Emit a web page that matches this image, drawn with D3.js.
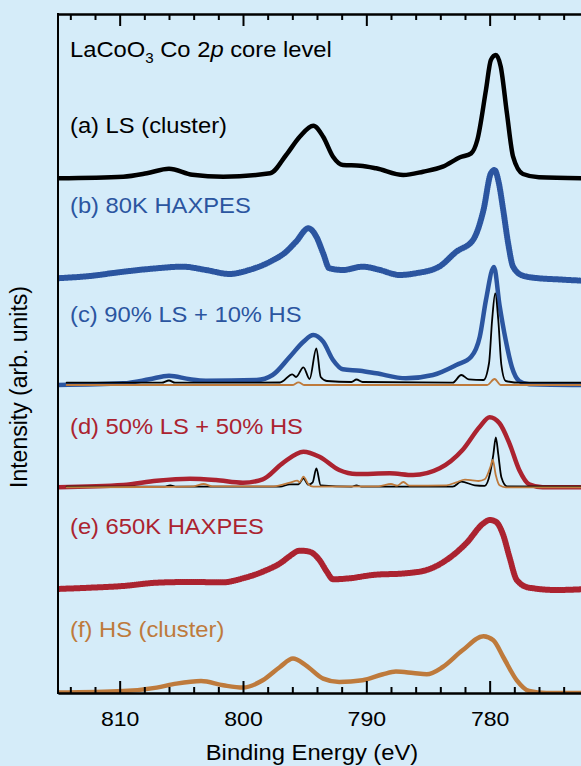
<!DOCTYPE html>
<html>
<head>
<meta charset="utf-8">
<script src="https://d3js.org/d3.v7.min.js"></script>
<style>
  body { margin: 0; background: #d5ecf9; }
  svg { display: block; font-family: "Liberation Sans", Arial, sans-serif; }
</style>
</head>
<body>
<div id="chart"></div>
<script>
// [binding energy (eV), intensity above the trace's own baseline (arb. units)]
const lsCluster = [[815.1,0],[809.7,1.6],[807.8,5],[806.0,9.6],[804.1,3.6],[801.6,1.6],[797.8,5],[796.5,23.3],[795.4,41.6],[794.3,52.6],[793.5,41.6],[792.7,21.6],[791.9,13.3],[790.5,12.6],[789.2,10],[787.0,3.3],[785.4,6.6],[783.8,11.6],[782.4,21],[781.5,25],[781.0,38.3],[780.3,88.3],[779.9,118.3],[779.5,123.3],[779.1,111.6],[778.6,65],[778.1,21.6],[777.3,4.3],[776.0,1],[772.5,0]];

const haxpes80K = [[815.1,2.7],[812.4,5],[809.7,9.3],[807.0,12.7],[804.9,14.3],[803.0,11],[801.1,7],[799.5,11],[797.8,19.3],[796.5,29.3],[795.7,39.3],[794.7,52.7],[794.05,44.3],[793.5,27.7],[793.0,12.7],[791.9,11],[790.3,14.3],[788.9,11],[787.3,6],[786.0,7.7],[784.1,14.3],[782.7,29.3],[781.35,41],[780.5,71],[779.9,107.7],[779.6,111],[779.25,97.7],[778.9,71],[778.5,37.7],[778.1,14.3],[777.3,5.3],[776.0,2.7],[774.6,1.7],[772.5,0.3]];

const mix90Sum = [[815.1,0],[809.7,1.7],[807.6,5.7],[806.0,9.3],[804.3,5.7],[803.0,4.3],[798.9,5],[797.6,10],[796.2,28.3],[795.1,43.3],[794.3,50],[793.5,43.3],[792.7,25],[791.9,15.7],[790.5,14.3],[789.2,11.7],[786.8,6.7],[784.6,10],[782.7,20],[781.5,28.3],[780.8,48.3],[780.3,85],[779.65,118],[779.2,80],[778.7,45],[778.2,18],[777.6,4],[776.8,0.7],[772.5,0]];
const mix90LS = [[814.3,2.3],[806.6,2.3],[806.0,4.5],[805.5,2.3],[797.0,2.5],[796.0,10.7],[795.7,8],[795.1,17.7],[794.6,6],[794.05,36.7],[793.7,8],[793.2,4],[791.2,3],[790.8,5.5],[790.3,3],[783.0,2.3],[782.3,10],[781.7,5.7],[780.5,5],[780.05,22],[779.8,65],[779.55,91.7],[779.3,65],[779.05,20],[778.7,4],[777.5,2.3],[772.5,2.3]];
const mix90HS = [[814.3,0],[796.0,0],[795.5,2.7],[795.0,0],[780.2,0],[779.6,6],[779.1,0],[772.5,0]];

const mix50Sum = [[815.1,0],[809.7,2.3],[807.0,6.6],[804.3,8.6],[802.2,7.3],[800.0,4.6],[798.4,8],[796.8,24],[795.1,35.6],[793.8,30.6],[792.2,17.3],[790.8,13.3],[788.1,14],[786.2,12.3],[784.05,19],[782.2,37.3],[780.8,60.6],[780.0,70],[779.2,64],[778.4,44],[777.6,17.3],[776.8,3],[775.7,0],[772.5,0]];
const mix50LS = [[814.3,0.6],[806.4,0.6],[805.9,2],[805.4,0.6],[797.0,0.6],[796.2,3],[795.5,3],[795.1,9],[794.7,2.6],[794.35,5],[794.05,19],[793.7,2],[791.2,0.6],[790.8,2],[790.4,0.6],[783.0,0.6],[782.3,5.6],[781.2,2],[780.4,1.5],[779.95,15],[779.7,33],[779.5,50],[779.3,33],[779.05,10],[778.6,1],[772.5,0.6]];
const mix50HS = [[814.3,0],[808.0,0.3],[804.0,1],[803.2,3.3],[802.5,1],[797.5,1],[796.2,4.6],[795.6,6.6],[795.4,5],[795.1,10.6],[794.7,3],[794.3,0.6],[789.0,1],[788.0,3.3],[787.5,1.6],[787.0,5.3],[786.5,1.6],[783.5,2],[782.7,5],[782.0,7.6],[781.4,7],[780.9,6.3],[780.4,8],[779.95,20],[779.75,27.3],[779.5,12],[779.2,2],[778.7,0],[772.5,0]];

const haxpes650K = [[815.1,1],[812.4,2.3],[809.7,4],[807.0,7.3],[804.3,8],[801.6,7.7],[800.0,11.7],[798.4,18.3],[796.8,28.3],[796.2,34],[795.4,39.3],[794.6,38.3],[793.8,30],[793.2,18.3],[792.7,10.7],[791.35,11.7],[789.5,15],[786.8,16.7],[785.1,20],[783.5,30],[781.9,46.7],[780.5,66.7],[780.0,70],[779.5,68.3],[778.9,55],[778.4,33.3],[777.8,10],[776.8,2.3],[774.6,0],[772.5,0.7]];

const hsCluster = [[815.1,0.4],[809.7,2],[807.0,5.4],[805.4,9.4],[803.4,12],[801.6,7.7],[800.0,5.4],[798.4,12.7],[797.0,26],[795.95,34.4],[794.9,27.7],[793.5,14.4],[792.2,11],[790.3,12.7],[788.65,18.7],[787.6,21.4],[786.2,20],[785.1,18.7],[783.8,26],[782.2,42.7],[780.5,56.7],[779.7,52.7],[778.9,36],[777.8,12.7],[776.8,2],[775.4,0],[772.5,0]];

// vertical offset of each stacked trace (arb. units)
const offsets = { a: 514.7, b: 412, c: 308, d: 205.7, e: 103, f: 0 };

const majorTicks = [810, 800, 790, 780];
const minorTicks = [814, 812, 808, 806, 804, 802, 798, 796, 794, 792, 788, 786, 784, 782, 778, 776, 774, 772];

const black = "#000000", blue = "#2b55a0", red = "#ab2330", orange = "#be7a3c";

const width = 581, height = 766;
const plotLeft = 58, plotTop = 14, plotBottom = 693;

const svg = d3.select("#chart")
  .append("svg")
  .attr("width", width)
  .attr("height", height);

const xScale = d3.scaleLinear()
  .domain([815, 770])
  .range([plotLeft, plotLeft + 45 * 12.333]);

const yScale = d3.scaleLinear()
  .domain([0, plotBottom - plotTop])
  .range([plotBottom, plotTop]);

svg.append("clipPath").attr("id", "plot")
  .append("rect")
  .attr("x", plotLeft).attr("y", plotTop)
  .attr("width", width - plotLeft).attr("height", plotBottom - plotTop);

const traces = [
  { data: lsCluster, offset: offsets.a, color: black, w: 4.5 },
  { data: haxpes80K, offset: offsets.b, color: blue, w: 6, dots: true },
  { data: mix90Sum, offset: offsets.c, color: blue, w: 4.5 },
  { data: mix90LS, offset: offsets.c, color: black, w: 1.8 },
  { data: mix90HS, offset: offsets.c, color: orange, w: 1.8 },
  { data: mix50Sum, offset: offsets.d, color: red, w: 4.5 },
  { data: mix50LS, offset: offsets.d, color: black, w: 1.8 },
  { data: mix50HS, offset: offsets.d, color: orange, w: 1.8 },
  { data: haxpes650K, offset: offsets.e, color: red, w: 6, dots: true },
  { data: hsCluster, offset: offsets.f, color: orange, w: 4.5 }
];

const plot = svg.append("g").attr("clip-path", "url(#plot)");

traces.forEach(t => {
  const line = d3.line()
    .x(d => xScale(d[0]))
    .y(d => yScale(d[1] + t.offset))
    .curve(d3.curveMonotoneX);
  plot.append("path")
    .datum(t.data)
    .attr("fill", "none")
    .attr("stroke", t.color)
    .attr("stroke-width", t.w)
    .attr("stroke-linejoin", "round")
    .attr("stroke-linecap", "round")
    .attr("stroke-dasharray", t.dots ? "0.5 1.6" : null)
    .attr("d", line);
});

// axes: bottom and top, ticks pointing inward
function styleAxis(g) {
  g.select(".domain").attr("stroke", black).attr("stroke-width", 2);
  g.selectAll(".tick line").attr("stroke", black).attr("stroke-width", 2);
}

svg.append("g")
  .attr("transform", "translate(0," + plotBottom + ")")
  .call(d3.axisBottom(xScale).tickValues(minorTicks).tickSize(-6).tickSizeOuter(0).tickFormat(""))
  .call(styleAxis);

const xAxis = svg.append("g")
  .attr("transform", "translate(0," + plotBottom + ")")
  .call(d3.axisBottom(xScale).tickValues(majorTicks).tickSize(-12).tickSizeOuter(0))
  .call(styleAxis);
xAxis.selectAll(".tick text")
  .attr("fill", black)
  .attr("font-size", 21)
  .attr("font-family", "Liberation Sans, Arial, sans-serif")
  .attr("dy", 0)
  .attr("y", 33)
  .attr("transform", "scale(1.1,1)");

svg.append("g")
  .attr("transform", "translate(0," + plotTop + ")")
  .call(d3.axisTop(xScale).tickValues(minorTicks).tickSize(-6).tickSizeOuter(0).tickFormat(""))
  .call(styleAxis);
svg.append("g")
  .attr("transform", "translate(0," + plotTop + ")")
  .call(d3.axisTop(xScale).tickValues(majorTicks).tickSize(-12).tickSizeOuter(0).tickFormat(""))
  .call(styleAxis);

svg.append("line")
  .attr("x1", plotLeft).attr("x2", plotLeft)
  .attr("y1", plotTop - 1).attr("y2", plotBottom + 1)
  .attr("stroke", black).attr("stroke-width", 2);

// axis titles
svg.append("g")
  .attr("transform", "translate(312,760) scale(1.08,1)")
  .append("text")
  .attr("text-anchor", "middle")
  .attr("font-size", 22)
  .text("Binding Energy (eV)");

svg.append("text")
  .attr("transform", "translate(27,387) rotate(-90)")
  .attr("text-anchor", "middle")
  .attr("font-size", 23)
  .text("Intensity (arb. units)");

// trace labels
function label(y, color) {
  return svg.append("g")
    .attr("transform", "translate(70," + y + ") scale(1.08,1)")
    .append("text")
    .attr("font-size", 22)
    .attr("fill", color);
}

const title = label(57, black);
title.append("tspan").text("LaCoO");
title.append("tspan").attr("font-size", 14).attr("dy", 6).text("3");
title.append("tspan").attr("dy", -6).text(" Co 2");
title.append("tspan").attr("font-style", "italic").text("p");
title.append("tspan").text(" core level");

label(133, black).text("(a) LS (cluster)");
label(213, blue).text("(b) 80K HAXPES");
label(322, blue).text("(c) 90% LS + 10% HS");
label(434, red).text("(d) 50% LS + 50% HS");
label(534, red).text("(e) 650K HAXPES");
label(637, orange).text("(f) HS (cluster)");
</script>
</body>
</html>
